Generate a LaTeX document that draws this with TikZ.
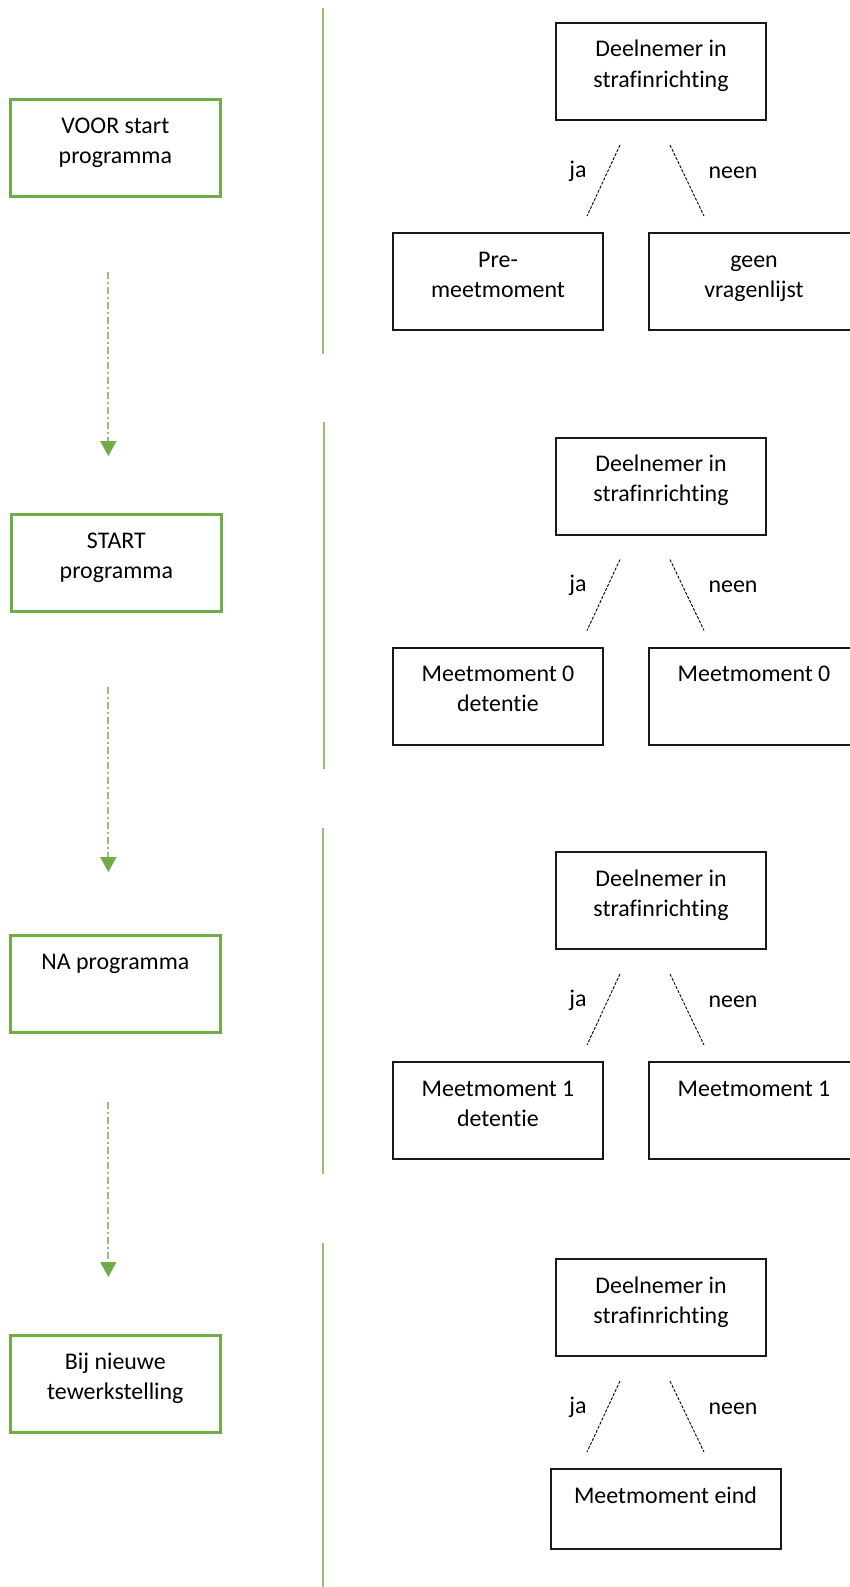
\documentclass[tikz,border=0pt]{standalone}
\usepackage{fontspec}
\setmainfont{Carlito}[Ligatures={NoCommon}]
\usetikzlibrary{arrows.meta,calc}
\definecolor{mygreen}{HTML}{70AD47}
\colorlet{lgreen}{mygreen!75!white}
\newcommand\bxt[3]{\parbox[c][#2][t]{#1}{\centering\rule{0pt}{34pt}#3}}
\begin{document}
\begin{tikzpicture}[x=1pt,y=-1pt,
  every node/.style={font=\fontsize{23.9pt}{30pt}\selectfont, inner sep=0pt},
  gbox/.style={draw=mygreen, line width=2.7pt, anchor=north west},
  bbox/.style={draw=black!90, line width=2pt, anchor=north west},
  sep/.style={draw=lgreen, line width=1.7pt},
  flow/.style={draw=lgreen, line width=1.8pt, dash pattern=on 7pt off 3pt on 2pt off 3pt,
     -{Triangle[width=16pt,length=15pt,color=mygreen]}},
  branch/.style={draw=black, line width=0.9pt, dash pattern=on 3pt off 1.5pt},
  lbl/.style={anchor=base}]
\useasboundingbox (0,0) rectangle (849,1587);

% left column
\node[gbox] (g1) at (9,98)   {\bxt{210pt}{97pt}{VOOR start\\programma}};
\node[gbox] (g2) at (10,513) {\bxt{210pt}{97pt}{START\\programma}};
\node[gbox] (g3) at (9,934)  {\bxt{210pt}{97pt}{NA programma}};
\node[gbox] (g4) at (9,1334) {\bxt{210pt}{97pt}{Bij nieuwe\\tewerkstelling}};

\draw[flow] ($(g1.south)+(-7,74)$) -- ($(g2.north)+(-8,-57)$);
\draw[flow] ($(g2.south)+(-8,74)$) -- ($(g3.north)+(-7,-62)$);
\draw[flow] ($(g3.south)+(-7,68)$) -- ($(g4.north)+(-7,-57)$);

% separators
\draw[sep] (323,8) -- (323,354);
\draw[sep] (324,422) -- (324,769);
\draw[sep] (323,828) -- (323,1174);
\draw[sep] (323,1243) -- (323,1587);

% group 1
\node[bbox] (t1) at (555,22) {\bxt{210pt}{97pt}{Deelnemer in\\strafinrichting}};
\node[bbox] (a1) at (392,232) {\bxt{210pt}{97pt}{Pre-\\meetmoment}};
\node[bbox] (b1) at (648,232) {\bxt{210pt}{97pt}{geen\\vragenlijst}};
\coordinate (j1s) at ($(t1.south)+(-41,24)$);
\coordinate (j1e) at ($(t1.south)+(-74,95)$);
\coordinate (n1s) at ($(t1.south)+(9,24)$);
\coordinate (n1e) at ($(t1.south)+(43,95)$);
\draw[branch] (j1s) -- (j1e);
\draw[branch] (n1s) -- (n1e);
\node[lbl] (ja1) at (578,177) {ja};
\node[lbl] (ne1) at (733,178) {neen};

% group 2
\node[bbox] (t2) at (555,436.5) {\bxt{210pt}{97pt}{Deelnemer in\\strafinrichting}};
\node[bbox] (a2) at (392,646.5) {\bxt{210pt}{97pt}{Meetmoment 0\\detentie}};
\node[bbox] (b2) at (648,646.5) {\bxt{210pt}{97pt}{Meetmoment 0}};
\coordinate (j2s) at ($(t2.south)+(-41,24)$);
\coordinate (j2e) at ($(t2.south)+(-74,95)$);
\coordinate (n2s) at ($(t2.south)+(9,24)$);
\coordinate (n2e) at ($(t2.south)+(43,95)$);
\draw[branch] (j2s) -- (j2e);
\draw[branch] (n2s) -- (n2e);
\node[lbl] (ja2) at (578,591.5) {ja};
\node[lbl] (ne2) at (733,592.5) {neen};

% group 3
\node[bbox] (t3) at (555,851) {\bxt{210pt}{97pt}{Deelnemer in\\strafinrichting}};
\node[bbox] (a3) at (392,1061) {\bxt{210pt}{97pt}{Meetmoment 1\\detentie}};
\node[bbox] (b3) at (648,1061) {\bxt{210pt}{97pt}{Meetmoment 1}};
\coordinate (j3s) at ($(t3.south)+(-41,24)$);
\coordinate (j3e) at ($(t3.south)+(-74,95)$);
\coordinate (n3s) at ($(t3.south)+(9,24)$);
\coordinate (n3e) at ($(t3.south)+(43,95)$);
\draw[branch] (j3s) -- (j3e);
\draw[branch] (n3s) -- (n3e);
\node[lbl] (ja3) at (578,1006) {ja};
\node[lbl] (ne3) at (733,1007) {neen};

% group 4
\node[bbox] (t4) at (555,1258) {\bxt{210pt}{97pt}{Deelnemer in\\strafinrichting}};
\node[bbox] (a4) at (549.5,1468) {\bxt{230pt}{80pt}{Meetmoment eind}};
\coordinate (j4s) at ($(t4.south)+(-41,24)$);
\coordinate (j4e) at ($(t4.south)+(-74,95)$);
\coordinate (n4s) at ($(t4.south)+(9,24)$);
\coordinate (n4e) at ($(t4.south)+(43,95)$);
\draw[branch] (j4s) -- (j4e);
\draw[branch] (n4s) -- (n4e);
\node[lbl] (ja4) at (578,1413) {ja};
\node[lbl] (ne4) at (733,1414) {neen};
\end{tikzpicture}
\end{document}
